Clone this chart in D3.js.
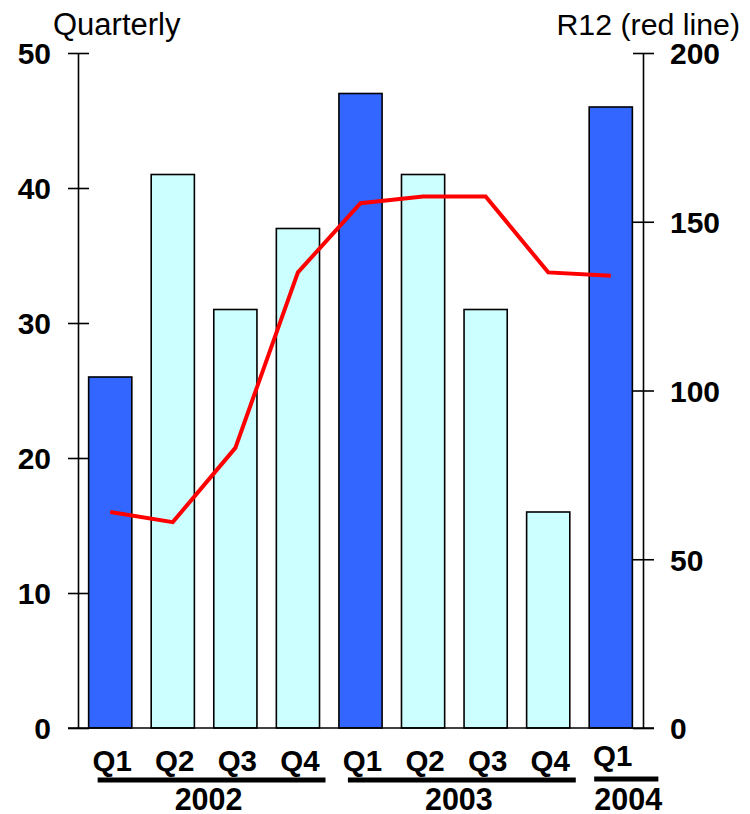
<!DOCTYPE html>
<html>
<head>
<meta charset="utf-8">
<script src="https://cdn.jsdelivr.net/npm/d3@7"></script>
<style>
  html, body { margin: 0; padding: 0; background: #fff; }
  svg { display: block; font-family: "Liberation Sans", Arial, sans-serif; }
</style>
</head>
<body>
<svg id="chart" width="750" height="814"></svg>
<script>
// Quarterly values (left axis) and rolling 12-month totals (right axis)
const quarters = ["Q1", "Q2", "Q3", "Q4", "Q1", "Q2", "Q3", "Q4", "Q1"];
const years = ["2002", "2002", "2002", "2002", "2003", "2003", "2003", "2003", "2004"];
const quarterly = [26, 41, 31, 37, 47, 41, 31, 16, 46];
const r12 = [64, 61, 83, 135, 155.5, 157.5, 157.5, 135, 134];
// Q1 of each year is highlighted in the darker colour
const highlighted = [true, false, false, false, true, false, false, false, true];
const leftTicks = [0, 10, 20, 30, 40, 50];
const rightTicks = [0, 50, 100, 150, 200];
const yearGroups = ["2002", "2003", "2004"];

const svg = d3.select("#chart");
const plotLeft = 78, plotRight = 643, plotTop = 53, plotBottom = 728;

const keys = quarters.map((q, i) => years[i] + " " + q);
const x = d3.scaleBand().domain(keys).range([plotLeft, plotRight])
  .paddingInner(0.31).paddingOuter(0.17);
const yL = d3.scaleLinear().domain([0, 50]).range([plotBottom, plotTop]);
const yR = d3.scaleLinear().domain([0, 200]).range([plotBottom, plotTop]);

// Bars
svg.append("g").selectAll("rect").data(quarterly).join("rect")
  .attr("x", (d, i) => x(keys[i]))
  .attr("y", d => yL(d))
  .attr("width", x.bandwidth())
  .attr("height", d => yL(0) - yL(d))
  .attr("fill", (d, i) => highlighted[i] ? "#3366ff" : "#ccffff")
  .attr("stroke", "#000")
  .attr("stroke-width", 1.6);

// Left axis
const gL = svg.append("g").attr("transform", `translate(${plotLeft},0)`)
  .call(d3.axisLeft(yL).tickValues(leftTicks).tickSizeOuter(0).tickFormat(d3.format("d")));
gL.select(".domain").attr("stroke", "#000").attr("stroke-width", 1.6);
gL.selectAll(".tick line").attr("x1", -10).attr("x2", 11).attr("stroke-width", 1.6);
gL.selectAll(".tick text").attr("x", -27).attr("dy", "0.36em")
  .attr("font-size", 30).attr("font-weight", "bold").attr("fill", "#000")
  .attr("font-family", "Liberation Sans, Arial, sans-serif");

// Right axis
const gR = svg.append("g").attr("transform", `translate(${plotRight},0)`)
  .call(d3.axisRight(yR).tickValues(rightTicks).tickSizeOuter(0).tickFormat(d3.format("d")));
gR.select(".domain").attr("stroke", "#000").attr("stroke-width", 1.6);
gR.selectAll(".tick line").attr("x1", -10).attr("x2", 11).attr("stroke-width", 1.6);
gR.selectAll(".tick text").attr("x", 27).attr("dy", "0.36em")
  .attr("font-size", 30).attr("font-weight", "bold").attr("fill", "#000")
  .attr("font-family", "Liberation Sans, Arial, sans-serif");

// Zero baseline
svg.append("line")
  .attr("x1", plotLeft - 10).attr("x2", plotRight + 11)
  .attr("y1", yL(0)).attr("y2", yL(0))
  .attr("stroke", "#000").attr("stroke-width", 1.6);

// R12 line
const line = d3.line()
  .x((d, i) => x(keys[i]) + x.bandwidth() / 2)
  .y(d => yR(d));
svg.append("path").datum(r12)
  .attr("d", line)
  .attr("fill", "none")
  .attr("stroke", "#ff0000")
  .attr("stroke-width", 4);

// Axis titles
svg.append("text").attr("x", 53).attr("y", 35)
  .attr("font-size", 31).text("Quarterly");
svg.append("text").attr("x", 740).attr("y", 35)
  .attr("text-anchor", "end").attr("font-size", 30.3).text("R12 (red line)");

// Quarter labels
svg.append("g").selectAll("text").data(quarters).join("text")
  .attr("x", (d, i) => x(keys[i]) + x.bandwidth() / 2 + 2)
  .attr("y", (d, i) => years[i] === "2004" ? 766 : 771)
  .attr("text-anchor", "middle")
  .attr("font-size", 29.5).attr("font-weight", "bold")
  .text(d => d);

// Year groups: underline + label
yearGroups.forEach(yr => {
  const idx = keys.map((k, i) => i).filter(i => years[i] === yr);
  const first = x(keys[idx[0]]), last = x(keys[idx[idx.length - 1]]) + x.bandwidth();
  const single = idx.length === 1;
  const x1 = single ? first + 5 : first + 9;
  const x2 = single ? last + 26 : last + 6;
  const ly = single ? 779 : 780;
  svg.append("line")
    .attr("x1", x1).attr("x2", x2).attr("y1", ly).attr("y2", ly)
    .attr("stroke", "#000").attr("stroke-width", 5);
  svg.append("text")
    .attr("x", (x1 + x2) / 2 + (single ? 2 : -3)).attr("y", 810)
    .attr("text-anchor", "middle")
    .attr("font-size", 30.5).attr("font-weight", "bold")
    .text(yr);
});
</script>
</body>
</html>
